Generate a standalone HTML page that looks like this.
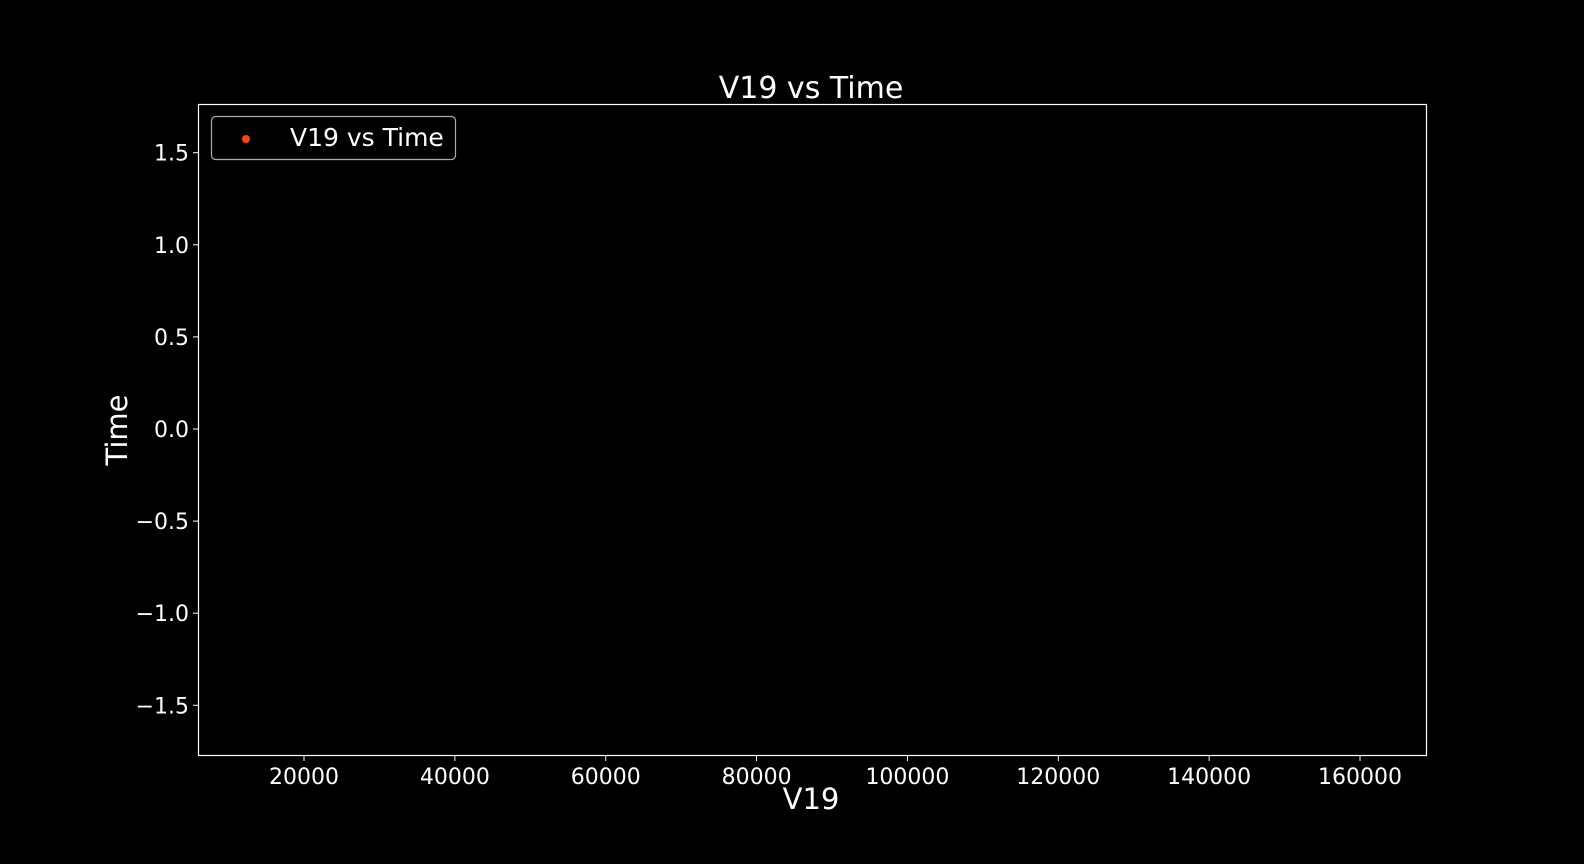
<!DOCTYPE html>
<html><head><meta charset="utf-8"><style>
html,body{margin:0;padding:0;background:#000;}
svg{display:block;font-family:"DejaVu Sans","Liberation Sans",sans-serif;}
</style></head><body>
<svg id="chart" width="1584" height="864" xmlns="http://www.w3.org/2000/svg">
<rect width="1584" height="864" fill="#000"/>
<text x="811" y="98" fill="#fff" font-size="30" text-anchor="middle">V19 vs Time</text>
<g id="xticks"></g>
<g id="yticks"></g>
<g id="points"></g>
<rect x="198.5" y="104.5" width="1228" height="651" fill="none" stroke="#fff" stroke-width="1.2"/>
<text x="811" y="809" fill="#fff" font-size="29" text-anchor="middle">V19</text>
<text transform="translate(127,430) rotate(-90)" fill="#fff" font-size="29" text-anchor="middle">Time</text>
<g>
<rect x="211.5" y="116.5" width="244" height="43" rx="4" fill="#000" stroke="#aaa" stroke-width="1.2"/>
<circle cx="246" cy="139" r="4" fill="#ff4500"/>
<text x="290" y="146" fill="#fff" font-size="25">V19 vs Time</text>
</g>
</svg>
<script>
const xTickValues=[20000,40000,60000,80000,100000,120000,140000,160000];
const yTickValues=[1.5,1.0,0.5,0.0,-0.5,-1.0,-1.5];
const yTickLabels=["1.5","1.0","0.5","0.0","\u22120.5","\u22121.0","\u22121.5"];
const xValues=[];
const yValues=[];
const NS="http://www.w3.org/2000/svg";
function xs(v){return 304+(v-20000)*(150.86/20000);}
function ys(v){return 429-v*184.2;}
const gx=document.getElementById('xticks'),gy=document.getElementById('yticks'),gp=document.getElementById('points');
xTickValues.forEach(v=>{
 const l=document.createElementNS(NS,'line');
 l.setAttribute('x1',xs(v));l.setAttribute('x2',xs(v));l.setAttribute('y1',756);l.setAttribute('y2',761);
 l.setAttribute('stroke','#fff');
 
 
 gx.appendChild(l);
 const t=document.createElementNS(NS,'text');
 t.setAttribute('x',xs(v));t.setAttribute('y',784);t.setAttribute('fill','#fff');t.setAttribute('font-size','22');t.setAttribute('text-anchor','middle');
 t.textContent=String(v);
 
 
 gx.appendChild(t);
});
yTickValues.forEach((v,i)=>{
 const l=document.createElementNS(NS,'line');
 l.setAttribute('x1',193);l.setAttribute('x2',198);l.setAttribute('y1',ys(v));l.setAttribute('y2',ys(v));
 l.setAttribute('stroke','#fff');
 
 
 gy.appendChild(l);
 const t=document.createElementNS(NS,'text');
 t.setAttribute('x',189);t.setAttribute('y',ys(v)+8);t.setAttribute('fill','#fff');t.setAttribute('font-size','22');t.setAttribute('text-anchor','end');
 t.textContent=yTickLabels[i];
 
 
 gy.appendChild(t);
});
xValues.forEach((v,i)=>{
 const c=document.createElementNS(NS,'circle');
 c.setAttribute('cx',xs(v));c.setAttribute('cy',ys(yValues[i]));c.setAttribute('r',4);c.setAttribute('fill','#ff4500');
 
 
 gp.appendChild(c);
});
</script>
</body></html>
